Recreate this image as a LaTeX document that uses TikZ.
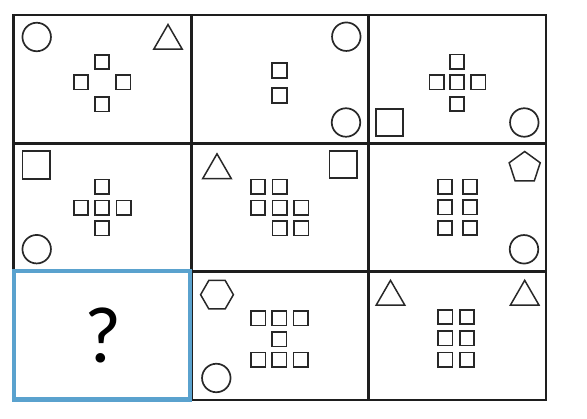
\documentclass[tikz,border=0pt]{standalone}
\usepackage{fontspec}
\newfontfamily\qfont{Carlito}
\usetikzlibrary{shapes.geometric}
\definecolor{framecol}{RGB}{30,30,30}
\definecolor{shapecol}{RGB}{40,40,40}
\definecolor{qblue}{RGB}{90,162,206}
\begin{document}
\begin{tikzpicture}[x=1pt,y=-1pt,
  sq/.style={draw=shapecol,rectangle,minimum size=14.5pt,inner sep=0pt,outer sep=0pt,line width=1.8pt},
  bigsq/.style={sq,minimum size=27.5pt},
  circ/.style={draw=shapecol,circle,minimum size=28.5pt,inner sep=0pt,outer sep=0pt,line width=1.7pt},
  poly/.style={draw=shapecol,regular polygon,inner sep=0pt,outer sep=0pt,line width=1.5pt},
  tri/.style={poly,regular polygon sides=3,minimum size=32.9pt},
  pent/.style={poly,regular polygon sides=5,minimum size=32.6pt},
  hexa/.style={poly,regular polygon sides=6,minimum size=32.8pt},
  gridline/.style={draw=framecol,line width=2.2pt},
  qbox/.style={draw=qblue,line width=4.5pt}]
\useasboundingbox (0,0) rectangle (587,419);
% grid
\draw[gridline] (13.5,15) rectangle (546,400);
\draw[gridline] (191.5,15) -- (191.5,400);
\draw[gridline] (368.5,15) -- (368.5,400);
\draw[gridline] (13.5,143.5) -- (546,143.5);
\draw[gridline] (13.5,271.5) -- (546,271.5);
% cell 1
\node[circ] (a1c) at (36.7,37) {};
\node[tri] (a1t) at (168,41) {};
\node[sq] (a1s1) at (102,62) {};
\node[sq] (a1s2) at (81,82.3) {};
\node[sq] (a1s3) at (123.3,82.3) {};
\node[sq] (a1s4) at (102,104.3) {};
% cell 2
\node[circ] (a2c1) at (346.3,36.7) {};
\node[circ] (a2c2) at (346,122.5) {};
\node[sq] (a2s1) at (279.5,70.5) {};
\node[sq] (a2s2) at (279.5,95.5) {};
% cell 3
\node[bigsq] (a3b) at (389.5,122.5) {};
\node[circ] (a3c) at (524.3,122.5) {};
\node[sq] (a3s1) at (457,61.7) {};
\node[sq] (a3s2) at (436.7,82.3) {};
\node[sq] (a3s3) at (457,82.3) {};
\node[sq] (a3s4) at (478.3,82.3) {};
\node[sq] (a3s5) at (457,104) {};
% cell 4
\node[bigsq] (b1b) at (36.2,165) {};
\node[circ] (b1c) at (36.7,249.2) {};
\node[sq] (b1s1) at (102,186.7) {};
\node[sq] (b1s2) at (81,207.7) {};
\node[sq] (b1s3) at (102,207.7) {};
\node[sq] (b1s4) at (123.7,207.7) {};
\node[sq] (b1s5) at (102,228.3) {};
% cell 5
\node[tri] (b2t) at (217,170.3) {};
\node[bigsq] (b2b) at (343.3,164.5) {};
\node[sq] (b2s1) at (258,186.7) {};
\node[sq] (b2s2) at (279.7,186.7) {};
\node[sq] (b2s3) at (258,207.7) {};
\node[sq] (b2s4) at (279.7,207.7) {};
\node[sq] (b2s5) at (301.3,207.7) {};
\node[sq] (b2s6) at (279.7,228.3) {};
\node[sq] (b2s7) at (301.3,228.3) {};
% cell 6
\node[pent] (b3p) at (524.7,167.8) {};
\node[circ] (b3c) at (524,249.3) {};
\node[sq] (b3s1) at (445,186.7) {};
\node[sq] (b3s2) at (470,186.7) {};
\node[sq] (b3s3) at (445,207.3) {};
\node[sq] (b3s4) at (470,207.3) {};
\node[sq] (b3s5) at (445,228) {};
\node[sq] (b3s6) at (470,228) {};
% cell 7
\draw[qbox] (13.8,271) rectangle (190,399.3);
\node (q) at (103,335) {\qfont\fontsize{80}{80}\selectfont ?};
% cell 8
\node[hexa] (c2h) at (217,294.7) {};
\node[circ] (c2c) at (216.3,378) {};
\node[sq] (c2s1) at (258.3,318.3) {};
\node[sq] (c2s2) at (279.3,318.3) {};
\node[sq] (c2s3) at (300.7,318.3) {};
\node[sq] (c2s4) at (279.3,339.3) {};
\node[sq] (c2s5) at (258.3,359.7) {};
\node[sq] (c2s6) at (279.3,359.7) {};
\node[sq] (c2s7) at (300.7,359.7) {};
% cell 9
\node[tri] (c3t1) at (390.5,296.8) {};
\node[tri] (c3t2) at (524.7,296.8) {};
\node[sq] (c3s1) at (445.3,317) {};
\node[sq] (c3s2) at (467,317) {};
\node[sq] (c3s3) at (445.3,338.3) {};
\node[sq] (c3s4) at (467,338.3) {};
\node[sq] (c3s5) at (445.3,359.7) {};
\node[sq] (c3s6) at (467,359.7) {};
\end{tikzpicture}
\end{document}
